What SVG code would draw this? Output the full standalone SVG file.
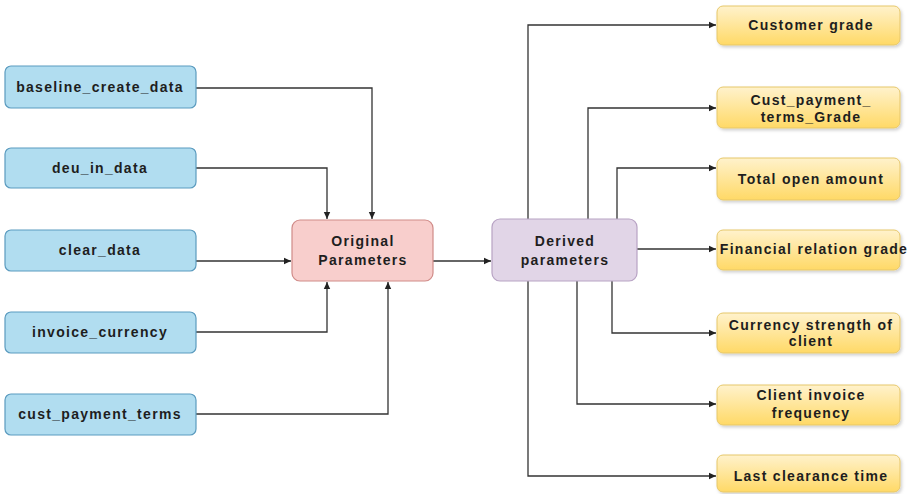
<svg xmlns="http://www.w3.org/2000/svg" width="910" height="494" viewBox="0 0 910 494">
  <defs>
    <linearGradient id="gold" x1="0" y1="0" x2="0" y2="1">
      <stop offset="0" stop-color="#fff2cc"/>
      <stop offset="1" stop-color="#ffd966"/>
    </linearGradient>
    <filter id="shadow" x="-10%" y="-20%" width="130%" height="150%">
      <feDropShadow dx="1.5" dy="2" stdDeviation="1.5" flood-color="#000" flood-opacity="0.18"/>
    </filter>
    <marker id="arrow" markerWidth="8" markerHeight="8" refX="7" refY="4" orient="auto" markerUnits="userSpaceOnUse">
      <path d="M0,0.8 L7,4 L0,7.2 Z" fill="#222"/>
    </marker>
  </defs>
  <style>
    text { font-family: "Liberation Sans", Arial, sans-serif; font-weight: bold; font-size: 14px; letter-spacing: 1.3px; fill: #1e1e1e; text-anchor: middle; }
    .src rect { fill: #b1ddf0; stroke: #5b9bbf; stroke-width: 1.2; }
    .orig rect { fill: #f8cecc; stroke: #d08b88; stroke-width: 1.2; }
    .der rect { fill: #e1d5e7; stroke: #b8a3c4; stroke-width: 1.2; }
    .out rect { fill: url(#gold); stroke: #e6c76a; stroke-width: 1; filter: url(#shadow); }
    .edges path { fill: none; stroke: #333; stroke-width: 1.3; marker-end: url(#arrow); }
  </style>
  <rect width="910" height="494" fill="#ffffff"/>

  <!-- connectors -->
  <g class="edges">
    <path d="M196 88 H372 V219"/>
    <path d="M196 168 H327 V219"/>
    <path d="M196 261 H291"/>
    <path d="M196 332 H327 V282"/>
    <path d="M196 414 H388 V282"/>
    <path d="M433 261 H491"/>
    <path d="M528 219 V25 H716"/>
    <path d="M588 219 V108 H716"/>
    <path d="M617 219 V168 H716"/>
    <path d="M637 249 H716"/>
    <path d="M612 281 V333 H716"/>
    <path d="M577 281 V404 H716"/>
    <path d="M528 281 V476 H716"/>
  </g>

  <!-- input fields -->
  <g id="baseline_create_data" class="src">
    <rect x="5" y="66" width="191" height="42" rx="6"/>
    <text x="100" y="92">baseline_create_data</text>
  </g>
  <g id="deu_in_data" class="src">
    <rect x="5" y="148" width="191" height="40" rx="6"/>
    <text x="100" y="173">deu_in_data</text>
  </g>
  <g id="clear_data" class="src">
    <rect x="5" y="230" width="191" height="41" rx="6"/>
    <text x="100" y="255">clear_data</text>
  </g>
  <g id="invoice_currency" class="src">
    <rect x="5" y="312" width="191" height="41" rx="6"/>
    <text x="100" y="337">invoice_currency</text>
  </g>
  <g id="cust_payment_terms" class="src">
    <rect x="5" y="394" width="191" height="41" rx="6"/>
    <text x="100" y="419">cust_payment_terms</text>
  </g>

  <!-- parameter stages -->
  <g id="original_parameters" class="orig">
    <rect x="292" y="220" width="141" height="61" rx="8"/>
    <text x="363" y="246">Original</text>
    <text x="363" y="265">Parameters</text>
  </g>
  <g id="derived_parameters" class="der">
    <rect x="492" y="219" width="145" height="62" rx="8"/>
    <text x="565" y="246">Derived</text>
    <text x="565" y="265">parameters</text>
  </g>

  <!-- derived outputs -->
  <g id="customer_grade" class="out">
    <rect x="717" y="6" width="183" height="39" rx="6"/>
    <text x="811" y="30">Customer grade</text>
  </g>
  <g id="cust_payment_terms_grade" class="out">
    <rect x="717" y="87" width="183" height="41" rx="6"/>
    <text x="811" y="105">Cust_payment_</text>
    <text x="811" y="122">terms_Grade</text>
  </g>
  <g id="total_open_amount" class="out">
    <rect x="717" y="158" width="183" height="42" rx="6"/>
    <text x="811" y="184">Total open amount</text>
  </g>
  <g id="financial_relation_grade" class="out">
    <rect x="717" y="230" width="183" height="40" rx="6"/>
    <text x="814" y="254">Financial relation grade</text>
  </g>
  <g id="currency_strength" class="out">
    <rect x="717" y="313" width="183" height="40" rx="6"/>
    <text x="811" y="330">Currency strength of</text>
    <text x="811" y="346">client</text>
  </g>
  <g id="client_invoice_frequency" class="out">
    <rect x="717" y="385" width="183" height="40" rx="6"/>
    <text x="811" y="400">Client invoice</text>
    <text x="811" y="418">frequency</text>
  </g>
  <g id="last_clearance_time" class="out">
    <rect x="717" y="455" width="183" height="37" rx="6"/>
    <text x="811" y="481">Last clearance time</text>
  </g>
</svg>
